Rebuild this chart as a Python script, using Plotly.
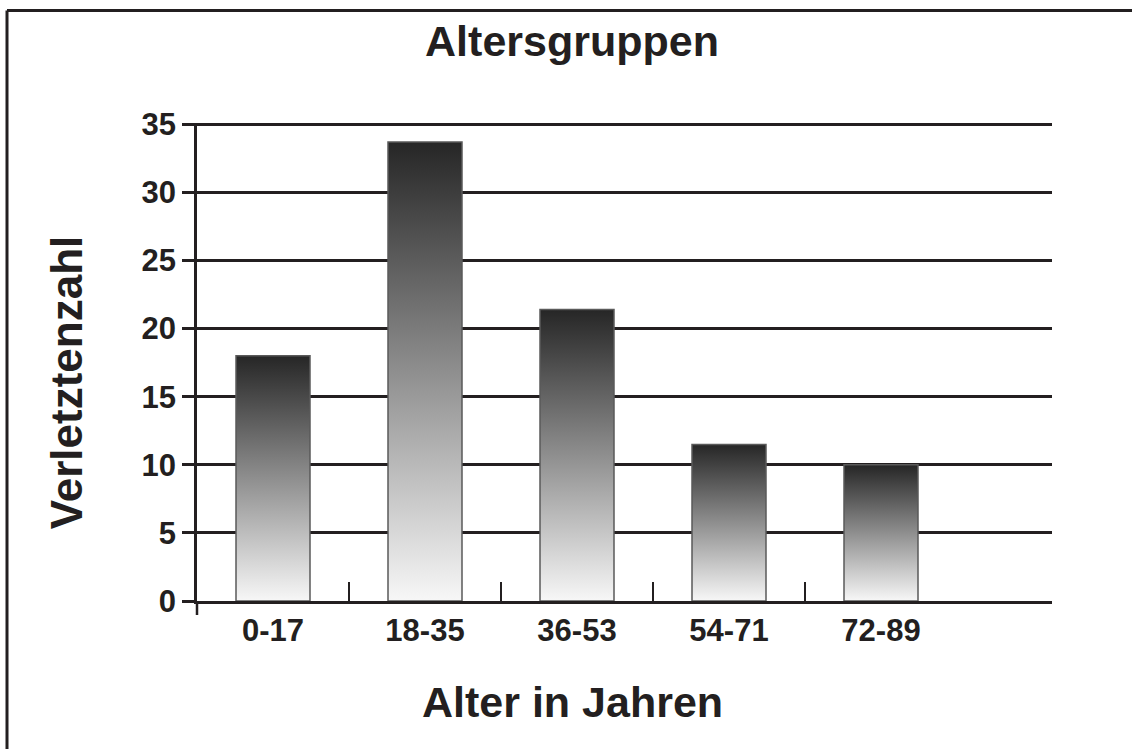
import plotly.graph_objects as go

categories = ["0-17", "18-35", "36-53", "54-71", "72-89"]
values = [18, 33.7, 21.4, 11.5, 10]
y_ticks = [0, 5, 10, 15, 20, 25, 30, 35]

INK = "#231f20"
FONT = "Liberation Sans, Arial, sans-serif"
W, H = 1132, 749
Y_TOP = 35.1
unit_px = (601 - 124) / 35.0
ML, MR, MB = 197, 80, 148
MT = 124 - (Y_TOP - 35) * unit_px
half_w = 0.2434

fig = go.Figure()
for i, (cat, v) in enumerate(zip(categories, values)):
    fig.add_trace(go.Scatter(
        x=[i - half_w, i - half_w, i + half_w, i + half_w, i - half_w],
        y=[0, v, v, 0, 0],
        mode="lines",
        fill="toself",
        fillgradient=dict(type="vertical",
                          colorscale=[[0, "#f7f7f7"], [1, "#262626"]],
                          start=0, stop=v),
        line=dict(color="#5a5a5a", width=1.5),
        name=cat,
        showlegend=False,
        hovertemplate=f"{cat}: {v}<extra></extra>",
    ))

pw = W - ML - MR
ph = H - MT - MB
def px_x(px):
    return (px - ML) / pw
def px_y(py):
    return (H - MB - py) / ph

# separator ticks between neighbouring categories
sep_ticks = [i + 0.5 for i in range(len(categories) - 1)]

fig.update_layout(
    width=W, height=H,
    margin=dict(l=ML, r=MR, t=MT, b=MB, pad=0),
    paper_bgcolor="white", plot_bgcolor="white",
    font=dict(family=FONT, color=INK),
    title=dict(text="<b>Altersgruppen</b>", x=572 / W, xref="container",
               xanchor="center", y=1 - 41 / H, yref="container", yanchor="middle",
               font=dict(size=43, family=FONT, color=INK)),
    xaxis=dict(range=[-0.5, 5.125], tickmode="array", tickvals=list(range(len(categories))),
               ticktext=[f"<b>{c}</b>" for c in categories], ticks="",
               tickfont=dict(size=31, family=FONT, color=INK),
               showgrid=False, zeroline=False, showline=True, linecolor=INK, linewidth=3,
               minor=dict(tickmode="array", tickvals=sep_ticks,
                          ticks="inside", ticklen=19, tickwidth=1.5, tickcolor=INK,
                          showgrid=False)),
    yaxis=dict(range=[0, Y_TOP], tickmode="array", tickvals=y_ticks,
               ticktext=[f"<b>{t}</b>" for t in y_ticks],
               tickfont=dict(size=31, family=FONT, color=INK),
               ticks="outside", ticklen=12, tickwidth=2.5, tickcolor=INK,
               showgrid=True, gridcolor=INK, gridwidth=2.5,
               zeroline=False, showline=True, linecolor=INK, linewidth=2.5),
    showlegend=False,
)

fig.add_annotation(text="<b>Alter in Jahren</b>", xref="paper", yref="paper",
                   x=px_x(572), y=px_y(702), xanchor="center", yanchor="middle",
                   showarrow=False, font=dict(size=43, family=FONT, color=INK))
fig.add_annotation(text="<b>Verletztenzahl</b>", xref="paper", yref="paper",
                   x=px_x(66), y=px_y(383), xanchor="center", yanchor="middle",
                   textangle=-90, showarrow=False,
                   font=dict(size=44, family=FONT, color=INK))

# y-axis line extension below the x-axis
fig.add_shape(type="line", xref="paper", yref="paper", x0=0, x1=0,
              ysizemode="pixel", yanchor=0, y0=0, y1=-14,
              line=dict(color=INK, width=2.5))
# frame (top and left edges)
fig.add_shape(type="line", xref="paper", yref="paper",
              x0=px_x(7), x1=px_x(W + 5), y0=px_y(10), y1=px_y(10),
              line=dict(color=INK, width=3))
fig.add_shape(type="line", xref="paper", yref="paper",
              x0=px_x(7), x1=px_x(7), y0=px_y(10), y1=px_y(H + 5),
              line=dict(color=INK, width=3))

fig.write_html("out.html", config={"displayModeBar": False},
               post_script="document.body.style.margin='0';")
